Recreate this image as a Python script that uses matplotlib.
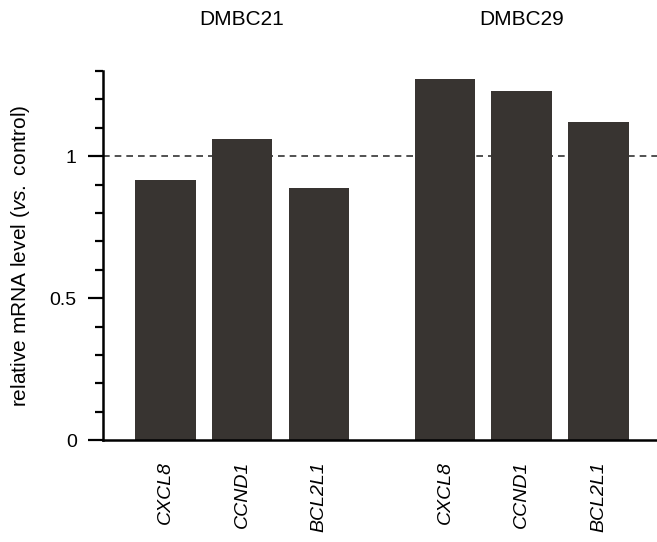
import matplotlib
matplotlib.use("Agg")
import matplotlib.pyplot as plt
from matplotlib.ticker import MultipleLocator
import numpy as np

plt.rcParams['font.family'] = ['Liberation Sans', 'DejaVu Sans']
plt.rcParams['mathtext.fontset'] = 'custom'
plt.rcParams['mathtext.rm'] = 'Liberation Sans'
plt.rcParams['mathtext.it'] = 'Liberation Sans:italic'

groups = ["DMBC21", "DMBC29"]
genes = ["CXCL8", "CCND1", "BCL2L1"]
dmbc21 = [0.915, 1.06, 0.887]
dmbc29 = [1.272, 1.23, 1.12]
yticks = [0, 0.5, 1]
yticklabels = ["0", "0.5", "1"]

bar_color = "#383431"
fs = 14

fig = plt.figure(figsize=(6.57, 5.42), dpi=100)
ax = fig.add_axes([0.1568, 0.188, 0.8432, 0.681])

gap = 1.64
pos1 = np.arange(len(genes))
pos2 = np.arange(len(genes)) + (len(genes) - 1) + gap
width = 0.79

ax.axhline(1, color="#333333", lw=1.2, ls=(0, (4, 3)), zorder=1)
ax.bar(pos1, dmbc21, width=width, color=bar_color, zorder=2)
ax.bar(pos2, dmbc29, width=width, color=bar_color, zorder=2)

ax.set_xlim(pos1[0] - 0.81, pos2[-1] + 0.76)
ax.set_ylim(0, 1.3)

ax.set_yticks(yticks)
ax.set_yticklabels(yticklabels, fontsize=fs)
ax.yaxis.set_minor_locator(MultipleLocator(0.1))
ax.tick_params(axis='y', which='major', length=11, width=1.6, direction='out', pad=8)
ax.tick_params(axis='y', which='minor', length=6, width=1.6, direction='out')

allpos = list(pos1) + list(pos2)
ax.set_xticks(allpos)
ax.set_xticklabels(genes + genes, rotation=90, style='italic', fontsize=fs)
ax.tick_params(axis='x', length=0, pad=15)

for s in ["top", "right"]:
    ax.spines[s].set_visible(False)
ax.spines["left"].set_linewidth(1.8)
ax.spines["bottom"].set_linewidth(1.8)

ax.set_ylabel(r"relative mRNA level ($\it{vs.}$ control)", fontsize=15)
ax.yaxis.set_label_coords(-0.128, 0.5)

for g, p in zip(groups, [pos1, pos2]):
    ax.annotate(g, xy=(np.mean(p), 1.0), xycoords=('data', 'axes fraction'),
                xytext=(0, 37), textcoords='offset points', ha='center', va='center',
                fontsize=15)

fig.savefig("out.png", dpi=100)
